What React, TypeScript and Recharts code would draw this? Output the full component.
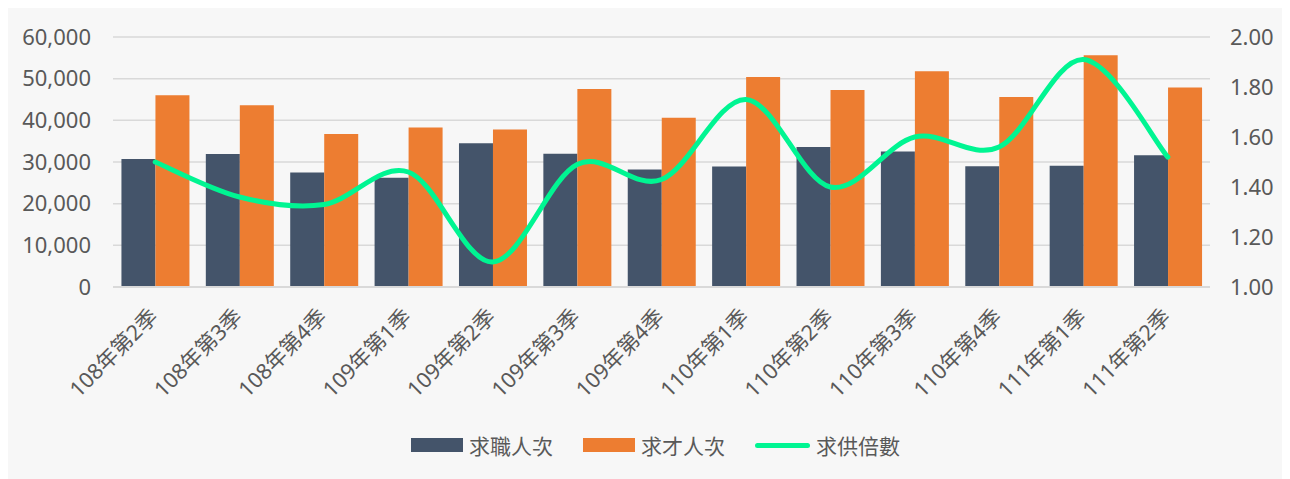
import React from "react";
import { ComposedChart, Bar, Line, XAxis, YAxis, CartesianGrid } from "recharts";

const quarters = [
  "108年第2季", "108年第3季", "108年第4季", "109年第1季", "109年第2季", "109年第3季", "109年第4季",
  "110年第1季", "110年第2季", "110年第3季", "110年第4季", "111年第1季", "111年第2季",
];
const jobSeekers = [30700, 31900, 27500, 26200, 34500, 32000, 28200, 28900, 33600, 32500, 29000, 29100, 31600];
const openings = [46000, 43600, 36700, 38300, 37800, 47500, 40600, 50400, 47300, 51800, 45600, 55600, 47900];
const ratios = [1.5, 1.36, 1.33, 1.46, 1.1, 1.49, 1.43, 1.75, 1.4, 1.6, 1.56, 1.91, 1.52];
const leftTicks = [0, 10000, 20000, 30000, 40000, 50000, 60000];
const rightTicks = [1.0, 1.2, 1.4, 1.6, 1.8, 2.0];

const data = quarters.map((q, i) => ({
  quarter: q,
  seekers: jobSeekers[i],
  openings: openings[i],
  ratio: ratios[i],
}));

const DARK = "#44546A";
const ORANGE = "#ED7D31";
const GREEN = "#00F592";
const TEXT = "#595959";
const FONT = "'Noto Sans', 'Noto Sans CJK TC', sans-serif";

// excel-style smoothed line (catmull-rom through every point)
const smoothCurve: any = (context: any) => {
  let pts: number[][] = [];
  return {
    areaStart() {},
    areaEnd() {},
    lineStart() {
      pts = [];
    },
    point(x: number, y: number) {
      pts.push([+x, +y]);
    },
    lineEnd() {
      if (!pts.length) return;
      context.moveTo(pts[0][0], pts[0][1]);
      for (let i = 0; i < pts.length - 1; i++) {
        const p0 = pts[i - 1] || pts[i];
        const p1 = pts[i];
        const p2 = pts[i + 1];
        const p3 = pts[i + 2] || p2;
        context.bezierCurveTo(
          p1[0] + (p2[0] - p0[0]) / 6,
          p1[1] + (p2[1] - p0[1]) / 6,
          p2[0] - (p3[0] - p1[0]) / 6,
          p2[1] - (p3[1] - p1[1]) / 6,
          p2[0],
          p2[1]
        );
      }
    },
  };
};

const QuarterTick = ({ x, y, payload }: any) => (
  <g transform={`translate(${x + 4},${y + 29})`}>
    <text transform="rotate(-45)" textAnchor="end" fill={TEXT} fontSize={21.5} fontFamily={FONT}>
      {payload.value}
    </text>
  </g>
);

const legendItems = [
  { label: "求職人次", color: DARK, kind: "box" },
  { label: "求才人次", color: ORANGE, kind: "box" },
  { label: "求供倍數", color: GREEN, kind: "line" },
];

export default function App() {
  return (
    <div style={{ position: "relative", width: 1282, height: 471, background: "#f7f7f7", fontFamily: FONT }}>
      <div style={{ position: "absolute", top: -27, left: 744, fontSize: 20, lineHeight: "24px", color: "#404040", whiteSpace: "nowrap" }}>
        (單位：人次)
      </div>
      <ComposedChart
        width={1282}
        height={471}
        data={data}
        margin={{ top: 29, right: 0, bottom: 0, left: 0 }}
        barCategoryGap="10%"
        barGap={0}
      >
        <CartesianGrid yAxisId="left" horizontal vertical={false} stroke="#d9d9d9" strokeWidth={1.5} ticks={leftTicks} />
        <XAxis
          dataKey="quarter"
          height={192}
          interval={0}
          tick={<QuarterTick />}
          tickLine={false}
          tickSize={0}
          axisLine={{ stroke: "#d9d9d9", strokeWidth: 2 }}
        />
        <YAxis
          yAxisId="left"
          width={105}
          domain={[0, 60000]}
          ticks={leftTicks}
          tickFormatter={(v: number) => v.toLocaleString("en-US")}
          axisLine={false}
          tickLine={false}
          tickSize={0}
          tickMargin={22}
          tick={{ fill: TEXT, fontSize: 22, fontFamily: FONT }}
        />
        <YAxis
          yAxisId="right"
          orientation="right"
          width={80}
          domain={[1, 2]}
          ticks={rightTicks}
          tickFormatter={(v: number) => v.toFixed(2)}
          axisLine={false}
          tickLine={false}
          tickSize={0}
          tickMargin={20}
          tick={{ fill: TEXT, fontSize: 22, fontFamily: FONT }}
        />
        <Bar yAxisId="left" dataKey="seekers" name="求職人次" fill={DARK} isAnimationActive={false} />
        <Bar yAxisId="left" dataKey="openings" name="求才人次" fill={ORANGE} isAnimationActive={false} />
        <Line
          yAxisId="right"
          dataKey="ratio"
          name="求供倍數"
          type={smoothCurve}
          stroke={GREEN}
          strokeWidth={5}
          strokeLinecap="round"
          dot={false}
          activeDot={false}
          isAnimationActive={false}
        />
      </ComposedChart>
      <div
        style={{
          position: "absolute",
          top: 422,
          left: 403,
          display: "flex",
          alignItems: "center",
          gap: 30,
          fontSize: 21,
          color: TEXT,
        }}
      >
        {legendItems.map((item) => (
          <div key={item.label} style={{ display: "flex", alignItems: "center", gap: 6 }}>
            {item.kind === "box" ? (
              <div style={{ width: 52, height: 14, background: item.color }} />
            ) : (
              <div style={{ width: 55, height: 5, borderRadius: 3, background: item.color }} />
            )}
            <span>{item.label}</span>
          </div>
        ))}
      </div>
    </div>
  );
}
